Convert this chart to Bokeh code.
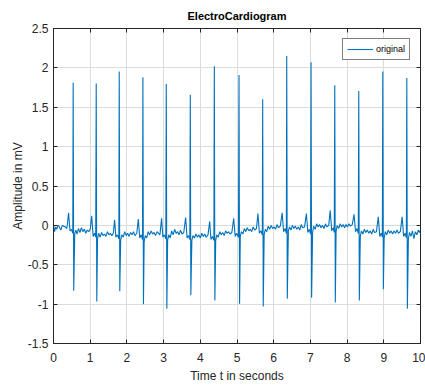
from bokeh.plotting import figure
from bokeh.models import LinearAxis, FixedTicker, Range1d, Legend, LegendItem, Grid
from bokeh.embed import file_html
from bokeh.resources import INLINE

# ECG trace (time in s, amplitude in mV)
time_s = [
    0.00, 0.03, 0.06, 0.09, 0.12, 0.16, 0.20, 0.24, 0.28, 0.32, 0.36, 0.38, 0.41, 0.45, 0.49, 0.525, 0.536, 0.551,
    0.58, 0.61, 0.64, 0.68, 0.72, 0.76, 0.80, 0.84, 0.88, 0.92, 0.96, 1.00, 1.04, 1.08, 1.12, 1.15, 1.164, 1.179,
    1.20, 1.23, 1.27, 1.31, 1.35, 1.39, 1.43, 1.47, 1.51, 1.55, 1.59, 1.63, 1.665, 1.70, 1.74, 1.78, 1.791, 1.806,
    1.83, 1.86, 1.90, 1.94, 1.98, 2.02, 2.06, 2.10, 2.14, 2.18, 2.22, 2.27, 2.31, 2.35, 2.39, 2.425, 2.436, 2.451,
    2.47, 2.50, 2.54, 2.58, 2.62, 2.66, 2.70, 2.74, 2.78, 2.82, 2.86, 2.90, 2.945, 2.98, 3.02, 3.06, 3.073, 3.088,
    3.11, 3.14, 3.18, 3.22, 3.26, 3.30, 3.34, 3.38, 3.42, 3.46, 3.50, 3.55, 3.60, 3.64, 3.68, 3.715, 3.727, 3.742,
    3.77, 3.80, 3.84, 3.88, 3.92, 3.96, 4.00, 4.04, 4.08, 4.12, 4.16, 4.21, 4.255, 4.29, 4.33, 4.37, 4.382, 4.397,
    4.42, 4.45, 4.49, 4.53, 4.57, 4.61, 4.65, 4.69, 4.73, 4.77, 4.81, 4.86, 4.91, 4.95, 4.99, 5.04, 5.055, 5.07,
    5.09, 5.12, 5.16, 5.20, 5.24, 5.28, 5.32, 5.36, 5.40, 5.44, 5.48, 5.53, 5.57, 5.61, 5.65, 5.69, 5.70, 5.715,
    5.74, 5.77, 5.81, 5.85, 5.89, 5.93, 5.97, 6.01, 6.05, 6.09, 6.13, 6.18, 6.23, 6.27, 6.31, 6.345, 6.355, 6.37,
    6.40, 6.43, 6.47, 6.51, 6.55, 6.59, 6.63, 6.67, 6.71, 6.75, 6.79, 6.84, 6.89, 6.93, 6.97, 7.005, 7.018, 7.033,
    7.06, 7.09, 7.13, 7.17, 7.21, 7.25, 7.29, 7.33, 7.37, 7.41, 7.45, 7.50, 7.54, 7.58, 7.62, 7.65, 7.664, 7.679,
    7.70, 7.73, 7.77, 7.81, 7.85, 7.89, 7.93, 7.97, 8.01, 8.05, 8.09, 8.14, 8.19, 8.23, 8.27, 8.305, 8.318, 8.333,
    8.36, 8.39, 8.43, 8.47, 8.51, 8.55, 8.59, 8.63, 8.67, 8.71, 8.75, 8.80, 8.85, 8.89, 8.93, 8.96, 8.973, 8.988,
    9.01, 9.04, 9.08, 9.12, 9.16, 9.20, 9.24, 9.28, 9.32, 9.36, 9.40, 9.45, 9.50, 9.54, 9.58, 9.615, 9.627, 9.642,
    9.67, 9.70, 9.74, 9.78, 9.82, 9.86, 9.90, 9.94, 9.97, 10.00,
]
amplitude_mv = [
    0.00, -0.08, -0.02, -0.05, 0.00, -0.02, -0.06, 0.00, -0.01, -0.02, -0.04, 0.02, 0.16, -0.07, -0.05, -0.10, 1.81, -0.83,
    -0.10, -0.06, -0.11, -0.04, -0.09, -0.03, -0.08, -0.05, -0.10, -0.06, -0.08, -0.05, 0.12, -0.14, -0.10, -0.15, 1.80, -0.966,
    -0.17, -0.10, -0.15, -0.09, -0.13, -0.11, -0.14, -0.08, -0.12, -0.10, -0.13, -0.10, 0.07, -0.15, -0.12, -0.17, 1.955, -0.835,
    -0.19, -0.12, -0.15, -0.08, -0.13, -0.10, -0.14, -0.09, -0.12, -0.08, -0.13, -0.10, 0.08, -0.16, -0.12, -0.18, 1.88, -1.00,
    -0.21, -0.13, -0.16, -0.08, -0.12, -0.07, -0.11, -0.09, -0.13, -0.08, -0.10, -0.12, 0.09, -0.15, -0.12, -0.17, 1.795, -1.06,
    -0.19, -0.12, -0.16, -0.07, -0.12, -0.05, -0.10, -0.08, -0.12, -0.06, -0.11, -0.09, 0.10, -0.16, -0.13, -0.18, 1.66, -0.886,
    -0.19, -0.13, -0.16, -0.11, -0.15, -0.12, -0.16, -0.10, -0.14, -0.11, -0.15, -0.12, 0.05, -0.18, -0.14, -0.19, 2.02, -0.954,
    -0.19, -0.12, -0.15, -0.08, -0.12, -0.09, -0.13, -0.07, -0.10, -0.08, -0.11, -0.09, 0.09, -0.14, -0.10, -0.15, 1.91, -0.996,
    -0.14, -0.08, -0.11, -0.04, -0.08, -0.03, -0.07, -0.05, -0.08, -0.02, -0.06, -0.04, 0.15, -0.10, -0.07, -0.12, 1.60, -1.03,
    -0.12, -0.05, -0.08, -0.01, -0.05, 0.00, -0.04, -0.02, -0.05, 0.01, -0.03, -0.01, 0.16, -0.08, -0.04, -0.10, 2.15, -0.932,
    -0.07, -0.02, -0.06, 0.00, -0.04, -0.01, -0.05, -0.02, -0.06, 0.01, -0.03, -0.02, 0.15, -0.09, -0.05, -0.11, 2.07, -0.92,
    -0.09, -0.01, -0.05, 0.02, -0.02, 0.01, -0.03, 0.00, -0.04, 0.02, -0.02, 0.00, 0.19, -0.07, -0.03, -0.09, 1.78, -0.98,
    -0.08, 0.00, -0.04, 0.02, -0.02, 0.01, -0.03, 0.01, -0.02, 0.02, -0.01, 0.01, 0.14, -0.08, -0.04, -0.10, 1.705, -0.954,
    -0.14, -0.07, -0.11, -0.05, -0.09, -0.06, -0.10, -0.07, -0.11, -0.05, -0.09, -0.08, 0.11, -0.14, -0.10, -0.15, 1.955, -0.81,
    -0.16, -0.08, -0.12, -0.06, -0.10, -0.07, -0.11, -0.07, -0.10, -0.06, -0.10, -0.08, 0.11, -0.14, -0.10, -0.16, 1.87, -1.06,
    -0.17, -0.09, -0.14, -0.07, -0.17, -0.08, -0.12, -0.06, -0.09, -0.06,
]
x_ticks = [0, 1, 2, 3, 4, 5, 6, 7, 8, 9, 10]
y_ticks = [-1.5, -1, -0.5, 0, 0.5, 1, 1.5, 2, 2.5]
y_tick_labels = {-1.5: "-1.5", -1: "-1", -0.5: "-0.5", 0: "0", 0.5: "0.5", 1: "1", 1.5: "1.5", 2: "2", 2.5: "2.5"}

FONT = "Liberation Sans"
AX = "#262626"

p = figure(width=425, height=385, output_backend="svg", toolbar_location=None,
           x_range=Range1d(0, 10), y_range=Range1d(-1.5, 2.5),
           x_axis_location=None, y_axis_location=None,
           min_border_left=53, min_border_right=5, min_border_top=28, min_border_bottom=42)
p.title.text = "ElectroCardiogram"
p.title.text_font = FONT
p.title.text_font_size = "11px"
p.title.text_font_style = "bold"
p.title.text_color = "#000000"
p.title.align = "center"
p.title.vertical_align = "top"
p.title.offset = 0
p.title.standoff = 10

p.outline_line_color = AX
p.outline_line_width = 1
p.background_fill_color = "white"
p.border_fill_color = "white"


def styled_axis(axis, ticks, show_labels):
    axis.ticker = FixedTicker(ticks=ticks)
    axis.axis_line_color = AX
    axis.major_tick_line_color = AX
    axis.major_tick_in = 4
    axis.major_tick_out = 0
    axis.minor_tick_line_color = None
    axis.major_label_text_font = FONT
    axis.major_label_text_font_size = "12px"
    axis.major_label_text_color = AX
    axis.axis_label_text_font = FONT
    axis.axis_label_text_font_size = "12px"
    axis.axis_label_text_font_style = "normal"
    axis.axis_label_text_color = AX
    if not show_labels:
        axis.major_label_text_alpha = 0
        axis.major_label_text_font_size = "1px"
        axis.major_label_standoff = 0


xb = LinearAxis(axis_label="Time t in seconds")
xt = LinearAxis()
yl = LinearAxis(axis_label="Amplitude in mV")
yr = LinearAxis()
styled_axis(xb, x_ticks, True)
styled_axis(xt, x_ticks, False)
styled_axis(yl, y_ticks, True)
styled_axis(yr, y_ticks, False)
xt.major_label_standoff = 6
yl.major_label_overrides = y_tick_labels
xb.major_label_standoff = 9
xb.axis_label_standoff = 4
yl.major_label_standoff = 5
yl.axis_label_standoff = 0
p.add_layout(xb, "below")
p.add_layout(xt, "above")
p.add_layout(yl, "left")
p.add_layout(yr, "right")

gx = Grid(dimension=0, ticker=FixedTicker(ticks=x_ticks), grid_line_color="#dcdcdc", grid_line_width=1)
gy = Grid(dimension=1, ticker=FixedTicker(ticks=y_ticks), grid_line_color="#dcdcdc", grid_line_width=1)
p.add_layout(gx, "center")
p.add_layout(gy, "center")

r = p.line(time_s, amplitude_mv, line_color="#0072BD", line_width=1.1)

legend = Legend(items=[LegendItem(label="original", renderers=[r])], location="top_right")
legend.label_text_font = FONT
legend.label_text_font_size = "9px"
legend.label_text_color = "#000000"
legend.border_line_color = "#000000"
legend.border_line_width = 1
legend.background_fill_alpha = 1
legend.glyph_width = 26
legend.glyph_height = 12
legend.padding = 4
legend.margin = 10
legend.label_standoff = 3
legend.label_height = 12
p.add_layout(legend, "center")

open("out.html", "w").write(file_html(p, INLINE))
